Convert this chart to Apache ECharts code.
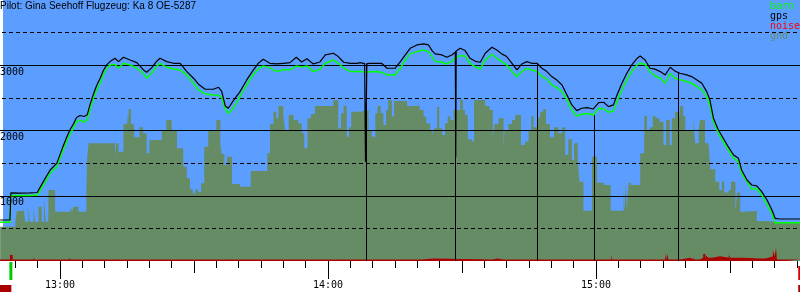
<!DOCTYPE html>
<html><head><meta charset="utf-8">
<script src="https://cdn.jsdelivr.net/npm/echarts@6/dist/echarts.min.js"></script>
<style>html,body{margin:0;padding:0;background:#fff}#c{width:800px;height:300px}</style>
</head><body><div id="c"></div>
<script>
// ---- data (time in minutes after midnight) ----
const titleText = 'Pilot: Gina Seehoff Flugzeug: Ka 8 OE-5287';
const yLabels = [1000, 2000, 3000];
const gridSolid = [1000, 2000, 3000];
const gridDashed = [500, 1500, 2500, 3500];

const flightTimes = [766.6,768.8,769.0,771.0,773.3,774.9,776.3,777.8,779.3,780.0,780.7,781.5,782.3,783.0,783.7,784.5,785.4,786.1,786.7,787.5,788.2,789.0,789.7,790.5,791.2,792.3,793.1,794.2,795.7,797.2,798.7,799.4,800.5,801.7,802.4,803.9,805.4,806.9,808.4,809.9,811.0,812.5,814.3,815.5,816.2,817.0,817.7,818.8,820.3,821.8,823.3,824.4,825.5,827.0,828.5,830.0,831.5,832.9,834.1,835.3,836.7,838.2,839.4,841.2,842.3,843.5,845.0,846.5,847.2,848.2,848.4,848.7,849.4,850.9,852.0,853.2,855.0,856.2,857.3,858.4,859.9,861.4,862.5,863.3,864.0,865.5,866.6,867.7,868.5,868.6,868.7,869.6,870.7,871.8,873.0,874.1,875.2,876.7,877.8,878.9,880.0,881.2,882.3,883.4,884.5,885.6,886.8,887.9,889.0,890.1,891.2,892.4,893.5,894.6,895.7,896.8,898.0,899.4,900.6,901.7,902.8,903.9,904.7,905.8,906.9,908.0,909.2,909.9,911.0,912.1,913.2,914.4,915.5,916.6,917.7,918.8,920.3,921.4,922.6,923.7,924.8,925.5,926.3,927.4,928.5,929.6,930.8,931.9,932.6,933.8,934.9,936.0,937.1,938.3,939.4,940.1,941.2,945.7];
const gpsAlt = [628,628,1045,1040,1045,1050,1220,1395,1500,1630,1760,1896,2020,2100,2200,2230,2215,2240,2392,2560,2690,2801,2920,3010,3056,3107,3056,3122,3080,3040,2928,2892,2960,3066,3107,3056,3030,3030,2903,2801,2709,2632,2632,2662,2600,2376,2341,2458,2596,2775,2928,3030,3091,3030,3020,3030,3040,3122,3050,3100,3020,3050,3158,3184,3133,3046,3030,3030,3040,3025,1522,3025,3030,3030,3030,2954,2954,3056,3158,3260,3311,3327,3311,3225,3174,3158,3122,3158,3200,1599,3220,3260,3225,3107,3060,3046,3184,3276,3235,3174,3133,3030,2928,3020,3056,3030,3030,2954,2903,2826,2775,2698,2545,2392,2305,2341,2350,2330,2428,2433,2366,2392,2545,2724,2877,3005,3107,3143,3081,2954,2940,2903,2852,2969,2910,2877,2852,2826,2775,2724,2596,2468,2187,2008,1881,1752,1625,1574,1395,1242,1165,1150,1063,935,782,654,644,644];
const baroAlt = [593,593,1005,1005,1005,1010,1165,1344,1446,1574,1702,1829,1957,2034,2136,2160,2130,2162,2315,2494,2621,2724,2852,2954,3005,3010,2954,3030,3005,2954,2877,2801,2877,2990,3030,2969,2943,2928,2850,2724,2621,2560,2545,2540,2510,2330,2264,2340,2520,2698,2860,2940,2990,2960,2903,2930,2930,2990,2975,2990,2903,2940,3030,3081,3030,2960,2903,2903,2903,2895,2895,2895,2900,2903,2890,2852,2852,2954,3081,3174,3209,3235,3209,3133,3060,3046,3020,3060,3120,3125,3130,3147,3140,3030,2975,2943,3081,3168,3107,3056,3005,2903,2826,2903,2954,2928,2903,2826,2790,2698,2660,2596,2468,2315,2223,2250,2260,2238,2341,2330,2280,2300,2443,2621,2775,2903,3005,3030,3010,2903,2836,2800,2724,2877,2800,2780,2750,2724,2673,2622,2519,2392,2136,1957,1829,1702,1574,1522,1344,1216,1099,1110,1012,858,731,587,587,587];

const gndTimes = [766.6,770.0,770.3,771.8,772.2,772.9,773.2,774.1,774.4,775.2,775.9,776.4,776.8,777.4,778.9,782.3,782.7,783.0,784.1,785.9,786.1,786.4,792.3,792.6,793.1,794.2,795.0,795.2,795.4,795.9,796.6,797.8,798.6,799.4,800.0,802.8,803.8,805.0,806.2,807.6,808.4,809.1,809.7,810.3,810.8,811.6,812.3,813.2,815.0,815.9,816.2,816.8,817.4,818.5,820.3,822.7,826.4,827.0,827.8,828.4,828.9,830.0,830.4,831.2,832.3,833.3,834.1,834.7,835.4,836.2,837.1,841.2,842.3,842.9,843.5,844.2,844.7,845.2,847.2,849.1,849.8,850.6,851.1,851.8,852.4,853.0,853.5,854.3,854.8,857.7,860.3,860.6,861.4,862.0,862.9,863.4,863.8,864.4,864.9,865.6,866.2,866.8,867.4,868.1,869.6,870.2,870.7,871.3,872.2,872.7,875.2,876.2,876.9,877.3,878.2,879.3,879.5,880.4,881.2,881.9,883.2,884.1,884.9,885.5,886.0,886.9,887.5,888.2,888.8,889.7,890.6,891.6,892.4,893.1,893.8,894.6,895.1,895.9,896.3,897.2,899.1,900.2,901.8,903.3,906.2,906.3,906.7,906.9,907.3,907.8,909.9,910.8,911.4,912.0,912.7,913.3,914.2,915.1,915.7,916.5,917.0,917.7,918.5,918.9,919.5,920.0,921.8,922.2,923.0,923.3,924.4,925.2,925.6,926.7,927.1,927.6,928.2,928.7,929.7,930.2,931.2,931.6,932.3,933.0,936.0,938.3,939.7,945.7];
const gndAlt = [526,603,767,833,602,833,602,833,602,833,602,986,602,1088,756,833,756,833,756,1088,1610,1804,1599,1804,1676,2096,2280,2096,2330,2096,1896,2050,1957,1651,1855,2008,2162,2008,1727,1446,1268,1099,1038,1099,1063,1191,1752,2008,2162,1778,1640,1472,1599,1180,1139,1380,1651,2100,2289,2187,2376,2223,2008,2238,2162,2110,1957,1727,2187,2254,2376,2468,2034,2264,2376,1906,2050,2289,2315,2008,1906,2264,2376,2264,2085,2315,2468,2213,2453,2376,2453,2315,2213,2110,2008,1932,2034,2360,2034,1932,2110,2213,2162,2315,2468,2315,2238,1866,1830,2468,2376,2315,1906,2100,2187,1727,2008,2100,2162,2238,1778,1830,2008,2223,2050,2200,2289,2330,2100,1896,2050,1957,2050,1625,1866,1548,1804,1599,1216,771,1599,1200,1165,771,1200,771,1200,771,1200,1165,1651,2223,2008,2050,2223,2187,2136,1778,2162,1778,2187,2289,2136,2376,2223,2008,2187,1804,2008,2162,1804,1830,1405,1216,1220,1090,1220,1050,1090,1216,756,1050,756,767,613,603,582,582];

const noiseTimes = [766.6,768.8,769.4,774.1,774.3,780.7,780.9,782.0,782.2,783.1,783.3,789.9,790.1,796.4,796.6,811.9,812.2,819.8,820.0,841.4,841.6,845.4,845.6,861.1,863.5,876.8,877.9,879.2,879.4,883.9,884.1,903.4,903.6,905.0,905.2,915.5,915.7,916.0,916.2,917.3,917.5,918.8,921.1,921.8,922.0,923.3,924.0,924.5,924.7,925.1,926.0,927.8,929.7,930.1,933.4,936.3,936.5,937.9,939.0,939.6,940.0,940.3,940.5,942.4,942.6,945.7];
const noiseVal = [6,23,6,14,6,9,6,14,6,11,6,11,6,9,6,9,6,9,6,9,6,9,6,10,6,10,6,9,6,9,6,23,6,9,6,31,6,27,6,9,6,12,6,15,6,12,27,12,20,12,18,12,23,12,10,17,10,14,18,42,18,50,6,9,6,6];

const markerTimes = [848.6, 868.6, 886.9, 899.5, 918.4];
const markerTop = [3025, 3220, 3020, 2238, 2887];
const launchTime = 769.0;
const landingTime = 945.5;

// ---- chart ----
const pairs = (ts, vs) => ts.map((t, i) => [t, vs[i]]);
const fmtTime = v => Math.floor(v / 60) + ':' + String(Math.round(v % 60)).padStart(2, '0');
const mono = "'DejaVu Sans Mono', monospace";
const sans = "'Liberation Sans', Arial, sans-serif";
const BLUE = '#5c9eff', GND = '#658c65';

const chart = echarts.init(document.getElementById('c'), null, {renderer: 'canvas'});
const tickAxis = (interval, len, labels) => ({
  type: 'value', position: 'bottom', min: 720, max: 960, interval: interval, z: 10,
  axisLine: {show: false}, splitLine: {show: false},
  axisTick: {show: true, length: len, lineStyle: {color: '#000', width: 1}},
  axisLabel: labels ? {show: true, margin: 19, formatter: fmtTime, fontFamily: mono, fontSize: 10, color: '#000'} : {show: false}
});

const option = {
  animation: false,
  title: {text: titleText, left: 0, top: 1, padding: 0,
    textStyle: {fontFamily: sans, fontSize: 10, fontWeight: 'normal', color: '#000'}},
  legend: {orient: 'vertical', left: 765, top: 1.5, padding: 0, itemGap: 0, itemWidth: 0, itemHeight: 10,
    icon: 'none', selectedMode: false,
    textStyle: {fontFamily: mono, fontSize: 10, lineHeight: 10, padding: 0},
    data: [{name: 'baro', textStyle: {color: '#00ff00'}}, {name: 'gps', textStyle: {color: '#000'}},
           {name: 'noise', textStyle: {color: '#ff0000'}}, {name: 'gnd', textStyle: {color: GND}}]},
  graphic: [
    {id: 'bg', type: 'rect', z: -2, silent: true, shape: {x: 3, y: 0, width: 797, height: 261}, style: {fill: BLUE}},
  ],
  grid: {left: -208, width: 1072, top: 0, height: 261, show: false, outerBoundsMode: 'none'},
  xAxis: [tickAxis(5, 7, false), tickAxis(30, 12, false), tickAxis(60, 18, true)],
  yAxis: [
    {type: 'value', min: 0, max: 4000, interval: 1000, offset: -208, z: 10,
     axisLine: {show: false}, axisTick: {show: false}, splitLine: {show: false},
     axisLabel: {inside: true, margin: 0, verticalAlign: 'top', padding: [2, 0, 0, 0],
       formatter: v => yLabels.includes(v) ? String(v) : '', fontFamily: mono, fontSize: 10, color: '#000'}},
    {type: 'value', min: 0, max: 1000, show: false}
  ],
  series: [
    {name: 'gnd', type: 'line', step: 'end', data: pairs(gndTimes, gndAlt), symbol: 'none', z: 1,
     silent: true, emphasis: {disabled: true}, itemStyle: {color: GND},
     lineStyle: {width: 0, color: GND}, areaStyle: {color: GND, opacity: 1, origin: 'start'},
     markLine: {silent: true, z: 2, symbol: ['none', 'none'], label: {show: false}, animation: false,
       emphasis: {disabled: true},
       data: gridSolid.map(v => ({yAxis: v, lineStyle: {color: '#000', width: 1, type: 'solid'}}))
         .concat(gridDashed.map(v => ({yAxis: v, lineStyle: {color: '#000', width: 1, type: [4, 3]}})))}},
    {name: 'noise', type: 'line', step: 'end', yAxisIndex: 1, data: pairs(noiseTimes, noiseVal), symbol: 'none', z: 3,
     silent: true, emphasis: {disabled: true}, itemStyle: {color: '#aa0000'},
     lineStyle: {width: 0, color: '#aa0000'}, areaStyle: {color: '#aa0000', opacity: 1, origin: 'start'}},
    {name: 'baro', type: 'line', data: pairs(flightTimes, baroAlt), symbol: 'none', z: 4,
     silent: true, emphasis: {disabled: true}, itemStyle: {color: '#00ff00'},
     lineStyle: {width: 1.5, color: '#00ff00'}},
    {name: 'gps', type: 'line', data: pairs(flightTimes, gpsAlt), symbol: 'none', z: 5,
     silent: true, emphasis: {disabled: true}, itemStyle: {color: '#000'},
     lineStyle: {width: 1.2, color: '#000'},
     markLine: {silent: true, z: 6, symbol: ['none', 'none'], label: {show: false}, animation: false,
       emphasis: {disabled: true}, lineStyle: {color: '#000', width: 1, type: 'solid'},
       data: markerTimes.map((t, i) => [{coord: [t, markerTop[i]]}, {coord: [t, 0]}])}}
  ]
};
chart.setOption(option);

// launch / landing indicators under the axis, positioned from their times
const xL = chart.convertToPixel({xAxisIndex: 0}, launchTime);
const xR = chart.convertToPixel({xAxisIndex: 0}, landingTime);
chart.setOption({graphic: [
  {id: 'strip', type: 'rect', z: -1, silent: true, shape: {x: 0, y: 0, width: 3, height: 220}, style: {fill: '#fff'}},
  {id: 'launchBar', type: 'rect', z: 20, silent: true, shape: {x: xL - 1.5, y: 262, width: 3, height: 18}, style: {fill: '#00cc00'}},
  {id: 'launchRange', type: 'rect', z: 20, silent: true, shape: {x: 0, y: 285, width: xL + 0.5, height: 7}, style: {fill: '#aa0000'}},
  {id: 'landBar', type: 'rect', z: 20, silent: true, shape: {x: xR - 1, y: 266, width: 3, height: 14}, style: {fill: '#dd0000'}},
  {id: 'landRange', type: 'rect', z: 20, silent: true, shape: {x: xR - 1, y: 285, width: 800 - xR + 1, height: 7}, style: {fill: '#aa0000'}}
]});
</script>
</body></html>
